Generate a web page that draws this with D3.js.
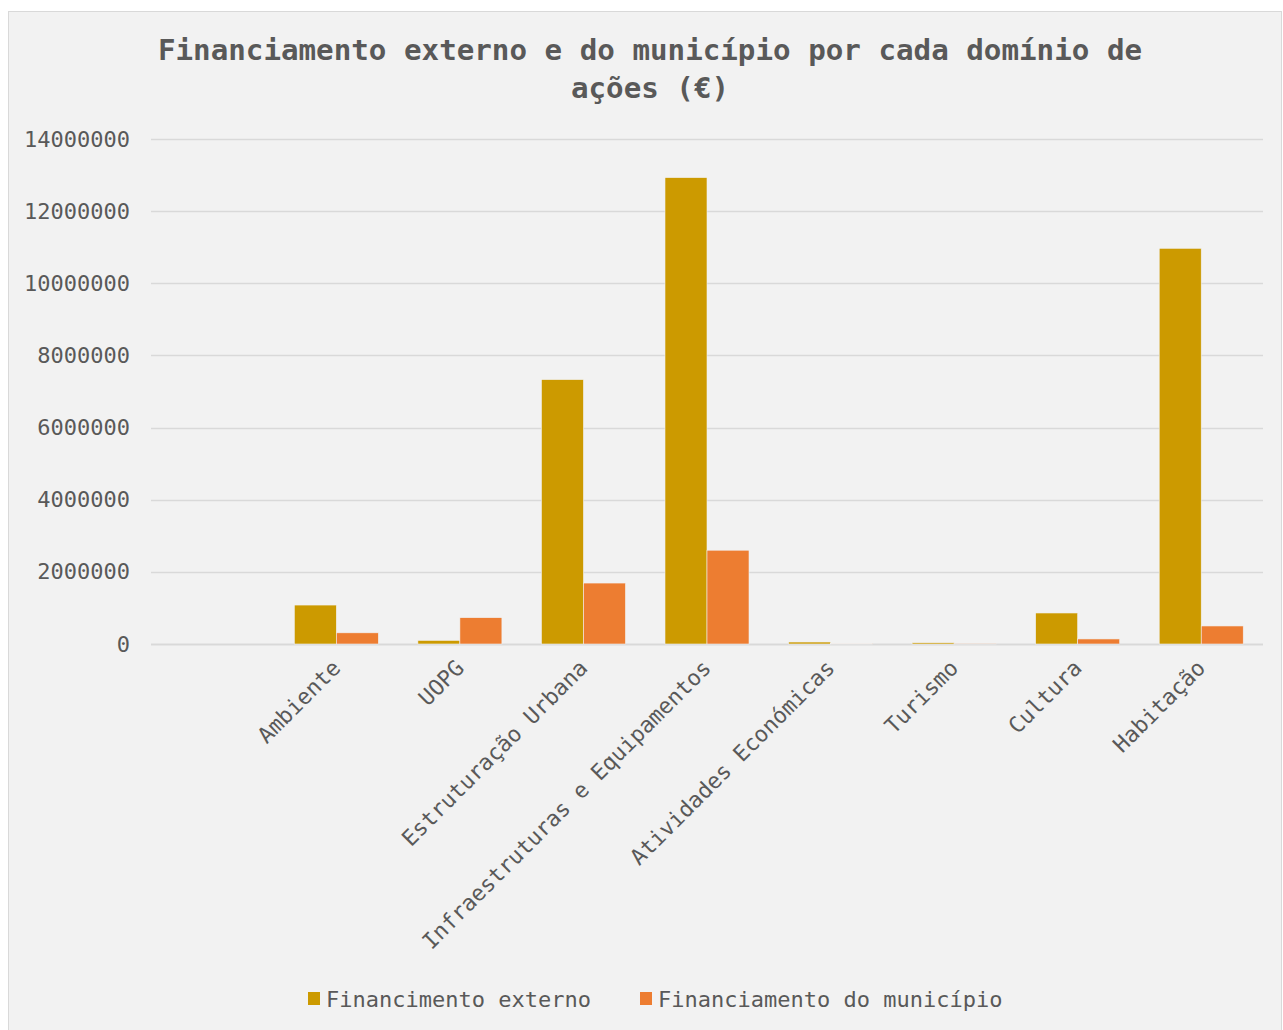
<!DOCTYPE html>
<html>
<head>
<meta charset="utf-8">
<script src="https://cdn.jsdelivr.net/npm/d3@7"></script>
<style>
  body { margin: 0; background: #ffffff; }
  text { font-family: "DejaVu Sans Mono", monospace; fill: #595959; }
</style>
</head>
<body>
<div id="chart"></div>
<script>
// chart data
var categories = ["", "Ambiente", "UOPG", "Estruturação Urbana", "Infraestruturas e Equipamentos",
  "Atividades Económicas", "Turismo", "Cultura", "Habitação"];
var externo = [0, 1080000, 100000, 7330000, 12930000, 55000, 35000, 860000, 10970000];
var municipio = [0, 310000, 730000, 1690000, 2600000, 10000, 5000, 140000, 500000];
var yTicks = [0, 2000000, 4000000, 6000000, 8000000, 10000000, 12000000, 14000000];
var seriesNames = ["Financimento externo", "Financiamento do município"];
var colors = ["#cc9a00", "#ed7d31"];

var svgWidth = 1283;
var svgHeight = 1030;

var margin = { top: 139, right: 20, bottom: 386, left: 151 };
var width = 1263 - margin.left;
var height = 644 - margin.top;

var svg = d3.select("#chart")
  .append("svg")
  .attr("width", svgWidth)
  .attr("height", svgHeight);

// chart area background + border
svg.append("rect")
  .attr("x", 8.5)
  .attr("y", 11.5)
  .attr("width", 1273)
  .attr("height", 1030)
  .attr("fill", "#f2f2f2")
  .attr("stroke", "#d9d9d9");

// title
var title = svg.append("text")
  .attr("text-anchor", "middle")
  .attr("font-weight", "bold")
  .attr("font-size", "29.2px");
title.append("tspan").attr("x", 650).attr("y", 60)
  .text("Financiamento externo e do município por cada domínio de");
title.append("tspan").attr("x", 650).attr("y", 98)
  .text("ações (€)");

var chartGroup = svg.append("g")
  .attr("transform", `translate(${margin.left}, ${margin.top})`);

var x0 = d3.scaleBand()
  .domain(categories.map((d, i) => i))
  .range([0, width])
  .paddingInner(0.32)
  .paddingOuter(0.16);

var x1 = d3.scaleBand()
  .domain([0, 1])
  .range([0, x0.bandwidth()]);

var yLinearScale = d3.scaleLinear()
  .domain([0, 14000000])
  .range([height, 0]);

// gridlines
chartGroup.selectAll(".grid")
  .data(yTicks)
  .enter()
  .append("line")
  .attr("x1", 0)
  .attr("x2", width)
  .attr("y1", d => Math.round(yLinearScale(d)) + 0.5)
  .attr("y2", d => Math.round(yLinearScale(d)) + 0.5)
  .attr("stroke", "#d9d9d9")
  .attr("stroke-width", d => d === 0 ? 2 : 1.3);

// y axis labels
var leftAxis = d3.axisLeft(yLinearScale)
  .tickValues(yTicks)
  .tickFormat(d3.format("d"))
  .tickSize(0)
  .tickPadding(21);

var yAxis = chartGroup.append("g").call(leftAxis);
yAxis.select(".domain").remove();
yAxis.selectAll("text")
  .attr("font-size", "22px")
  .attr("fill", "#595959")
  .attr("font-family", "DejaVu Sans Mono, monospace");

// bars
var groups = chartGroup.selectAll(".cat")
  .data(categories.map((c, i) => i))
  .enter()
  .append("g")
  .attr("transform", d => `translate(${x0(d)}, 0)`);

groups.selectAll("rect")
  .data(i => [externo[i], municipio[i]])
  .enter()
  .append("rect")
  .attr("x", (d, j) => x1(j))
  .attr("y", d => yLinearScale(d))
  .attr("width", x1.bandwidth())
  .attr("height", d => height - yLinearScale(d))
  .attr("fill", (d, j) => colors[j])
  .attr("stroke", "#f2f2f2")
  .attr("stroke-width", 0.6);

// x axis labels
var bottomAxis = d3.axisBottom(x0)
  .tickFormat(i => categories[i])
  .tickSize(0)
  .tickPadding(0);

var xAxis = chartGroup.append("g")
  .attr("transform", `translate(0, ${height})`)
  .call(bottomAxis);
xAxis.select(".domain").remove();
xAxis.selectAll("text")
  .attr("font-size", "22px")
  .attr("fill", "#595959")
  .attr("font-family", "DejaVu Sans Mono, monospace")
  .attr("text-anchor", "end")
  .attr("dy", "0.35em")
  .attr("transform", "translate(0, 20) rotate(-45)");

// legend
var legendX = [308, 640];
var legend = svg.selectAll(".legend")
  .data(seriesNames)
  .enter()
  .append("g")
  .attr("transform", (d, i) => `translate(${legendX[i]}, 992)`);

legend.append("rect")
  .attr("width", 12)
  .attr("height", 13)
  .attr("fill", (d, i) => colors[i]);

legend.append("text")
  .attr("x", 18)
  .attr("y", 7)
  .attr("dy", "0.35em")
  .attr("font-size", "22px")
  .text(d => d);
</script>
</body>
</html>
